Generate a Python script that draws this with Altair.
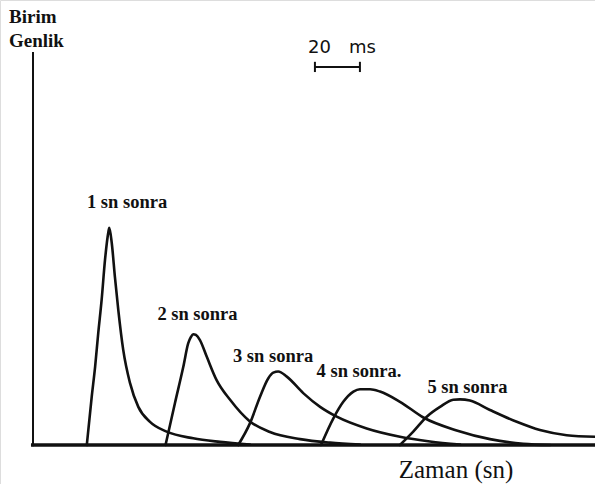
import altair as alt
import pandas as pd

# Time in ms (0 = amplitude axis) and unit amplitude for the five responses
t1 = [23.9, 26.1, 27.6, 29.0, 30.5, 32.0, 33.5, 33.9, 35.0, 36.4, 37.9, 40.1, 43.1, 46.8, 52.0, 59.4, 71.2, 83.1, 96.4]
a1 = [0.0, 0.123, 0.199, 0.285, 0.369, 0.471, 0.542, 0.553, 0.514, 0.428, 0.344, 0.242, 0.158, 0.097, 0.059, 0.034, 0.017, 0.008, 0.001]

t2 = [58.9, 63.1, 66.8, 69.0, 70.2, 71.2, 72.4, 74.2, 77.2, 81.6, 87.6, 96.4, 105.3, 118.7, 132.0, 145.3]
a2 = [0.0, 0.107, 0.199, 0.259, 0.275, 0.282, 0.280, 0.267, 0.225, 0.165, 0.115, 0.060, 0.033, 0.015, 0.006, 0.001]

t3 = [91.2, 96.4, 100.9, 104.6, 106.8, 109.0, 112.8, 120.1, 127.6, 135.0, 148.3, 163.1, 176.4, 189.8]
a3 = [0.0, 0.055, 0.123, 0.170, 0.184, 0.187, 0.174, 0.132, 0.097, 0.072, 0.042, 0.021, 0.009, 0.001]

t4 = [128.0, 133.5, 137.9, 142.4, 145.3, 149.8, 154.2, 163.1, 173.5, 188.3, 203.1, 217.9, 229.8]
a4 = [0.0, 0.068, 0.110, 0.136, 0.142, 0.142, 0.136, 0.110, 0.070, 0.037, 0.015, 0.003, 0.0]

t5 = [163.1, 169.0, 175.0, 180.9, 186.8, 189.8, 194.2, 203.1, 215.0, 225.3, 237.2, 249.8]
a5 = [0.0, 0.034, 0.072, 0.097, 0.115, 0.116, 0.113, 0.089, 0.059, 0.038, 0.025, 0.021]

# Curve labels and where they sit (time, amplitude)
label_text = ["1 sn sonra", "2 sn sonra", "3 sn sonra", "4 sn sonra.", "5 sn sonra"]
label_t = [41.8, 73.1, 106.7, 144.9, 193.1]
label_a = [0.603, 0.318, 0.212, 0.173, 0.132]

# 20 ms scale bar
bar_start = 125.3
bar_len = 20
bar_a = 0.962

T_MAX = 249.8
X_SCALE = alt.Scale(domain=[-14.67, 249.78], nice=False, zero=False)
Y_SCALE = alt.Scale(domain=[-0.0992, 1.1323], nice=False, zero=False)

rows = []
for k, (ts, as_) in enumerate([(t1, a1), (t2, a2), (t3, a3), (t4, a4), (t5, a5)], start=1):
    for t, a in zip(ts, as_):
        rows.append({"curve": k, "t": t, "a": a})
curves_df = pd.DataFrame(rows)

labels_df = pd.DataFrame({"text": label_text, "t": label_t, "a": label_a})

x_enc = alt.X("t:Q", scale=X_SCALE, axis=None)
y_enc = alt.Y("a:Q", scale=Y_SCALE, axis=None)

curves = alt.Chart(curves_df).mark_line(
    color="#111111", strokeWidth=2.6, interpolate="monotone", strokeJoin="round", strokeCap="round"
).encode(x=x_enc, y=y_enc, detail="curve:N")

labels = alt.Chart(labels_df).mark_text(
    font="Liberation Serif", fontWeight="bold", fontSize=18.5, color="#111111",
    align="center", baseline="alphabetic"
).encode(x=x_enc, y=y_enc, text="text:N")

# Amplitude axis and time baseline
axis_df = pd.DataFrame({"t": [0.0], "a": [-0.003], "a2": [1.0]})
y_axis_line = alt.Chart(axis_df).mark_rule(color="#111111", strokeWidth=2).encode(
    x=x_enc, y=y_enc, y2="a2:Q"
)
base_df = pd.DataFrame({"t": [-0.9], "t2": [T_MAX], "a": [0.0]})
baseline = alt.Chart(base_df).mark_rule(color="#111111", strokeWidth=3.5).encode(
    x=x_enc, x2="t2:Q", y=y_enc
)

# Scale bar with end ticks
bar_df = pd.DataFrame({"t": [bar_start], "t2": [bar_start + bar_len], "a": [bar_a]})
bar = alt.Chart(bar_df).mark_rule(color="#111111", strokeWidth=2).encode(x=x_enc, x2="t2:Q", y=y_enc)
ticks_df = pd.DataFrame({"t": [bar_start, bar_start + bar_len], "a": [bar_a - 0.013] * 2, "a2": [bar_a + 0.013] * 2})
bar_ticks = alt.Chart(ticks_df).mark_rule(color="#111111", strokeWidth=2).encode(x=x_enc, y=y_enc, y2="a2:Q")
bar_label_df = pd.DataFrame({"t": [bar_start + bar_len / 2 + 2.0], "a": [0.997], "text": ["20\u2003ms"]})
bar_label = alt.Chart(bar_label_df).mark_text(
    font="DejaVu Sans", fontSize=18, color="#111111", align="center", baseline="alphabetic"
).encode(x=x_enc, y=y_enc, text="text:N")

# Axis titles
y_title1 = alt.Chart(axis_df).mark_text(
    text="Birim", font="Liberation Serif", fontWeight="bold", fontSize=19, color="#111111",
    align="left", baseline="alphabetic"
).encode(x=alt.value(9), y=alt.value(22.5))
y_title2 = alt.Chart(axis_df).mark_text(
    text="Genlik", font="Liberation Serif", fontWeight="bold", fontSize=19, color="#111111",
    align="left", baseline="alphabetic"
).encode(x=alt.value(9), y=alt.value(46.5))
x_title = alt.Chart(axis_df).mark_text(
    text="Zaman (sn)", font="Liberation Serif", fontSize=25, color="#111111",
    align="center", baseline="alphabetic"
).encode(x=alt.value(456), y=alt.value(478))

chart = alt.layer(
    baseline, y_axis_line, curves, labels, bar, bar_ticks, bar_label, y_title1, y_title2, x_title
).properties(
    width=595, height=484, padding=0, autosize=alt.AutoSizeParams(type="none")
).configure_view(stroke=None).configure(background="white")

chart.save("out.html", embed_options={"renderer": "svg", "actions": False})
